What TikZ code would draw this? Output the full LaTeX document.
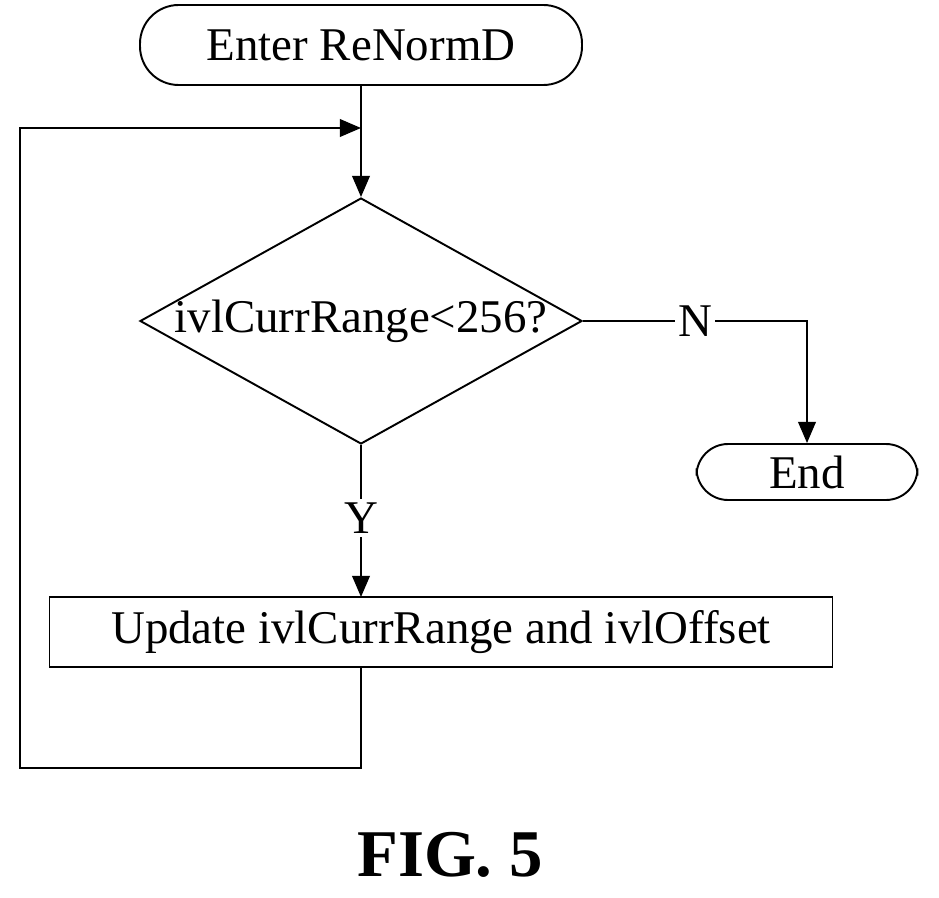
\documentclass[tikz,border=0pt]{standalone}
\usepackage{fontspec}
\setmainfont{Liberation Serif}
\usetikzlibrary{shapes.geometric,arrows.meta}
\begin{document}
\begin{tikzpicture}[x=0.02cm,y=-0.02cm,>={Triangle[length=12pt,width=10pt]},line width=1.1pt,
  font=\fontsize{26.7}{32}\selectfont]
\tikzstyle{term} = [draw, rounded corners=22pt, inner sep=0pt]
\tikzstyle{box} = [draw, inner sep=0pt]
\useasboundingbox (0,0) rectangle (939,898);
% nodes
\node[term, minimum width=442*0.02cm, minimum height=80*0.02cm] (start) at (361,45) {Enter ReNormD};
\node[draw, diamond, aspect=1.8, minimum width=442*0.02cm, minimum height=246*0.02cm, inner sep=0pt] (test) at (361,321) {};
\node at (361,321) {ivlCurrRange<256?};
\node[term, minimum width=221*0.02cm, minimum height=56*0.02cm, rounded corners=18pt] (end) at (807,472) {End};
\node[box, minimum width=783*0.02cm, minimum height=70*0.02cm] (upd) at (441,632) {Update ivlCurrRange and ivlOffset};
\node[font=\fontsize{38}{44}\selectfont\bfseries] (fig) at (450,855) {FIG. 5};
\coordinate (join) at (361,128);
\coordinate (nr) at (807,321);
% connectors
\draw[->] (start) -- (test);
\draw[->] (test.east) -- (nr) node[midway, fill=white, inner sep=2pt] {N} -- (end);
\draw[->] (test.south) -- (361,597) node[pos=0.48, fill=white, inner sep=2pt] {Y};
\draw[->] (361,667) -- (361,768) -- (20,768) -- (20,128) -- (join);
\end{tikzpicture}
\end{document}
